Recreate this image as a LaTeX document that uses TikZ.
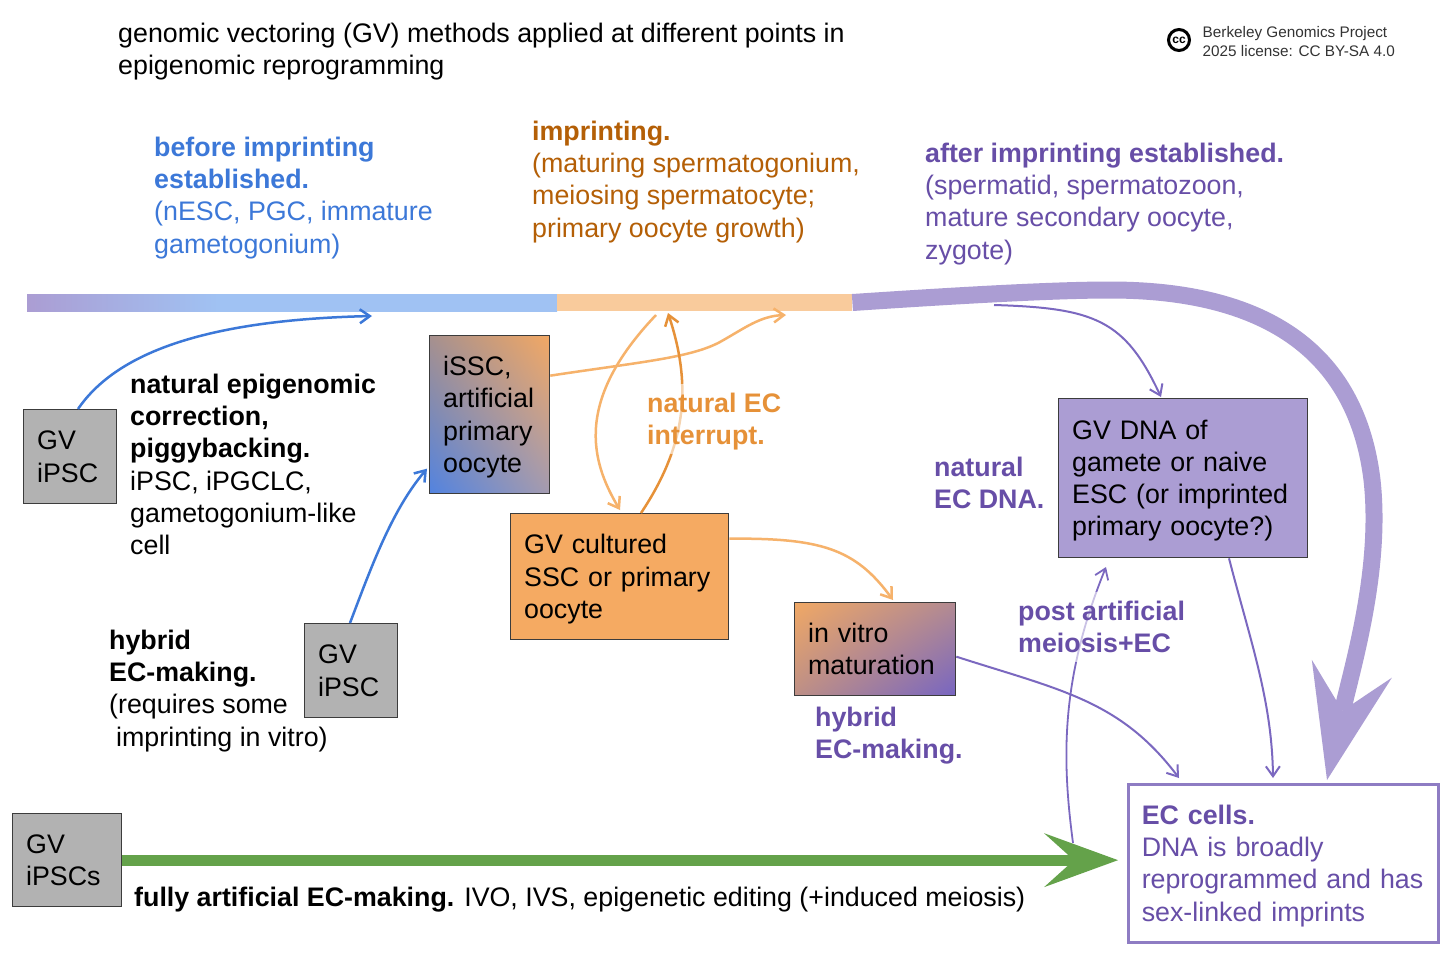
\documentclass[tikz,border=0pt]{standalone}
\usepackage{fontspec}
\setmainfont{Liberation Sans}
\usetikzlibrary{arrows.meta,calc,shadings}
\definecolor{cblue}{HTML}{3C78D8}
\definecolor{cbrown}{HTML}{B45F06}
\definecolor{cpurple}{HTML}{674EA7}
\definecolor{corange}{HTML}{E69138}
\definecolor{lorange}{HTML}{F6B26B}
\definecolor{barpurple}{HTML}{AB9DD3}
\definecolor{barblue}{HTML}{A0C2F3}
\definecolor{barorange}{HTML}{F9CB9C}
\definecolor{boxorange}{HTML}{F5AA62}
\definecolor{boxgray}{HTML}{B2B2B2}
\definecolor{edgegray}{HTML}{3C3C3C}
\definecolor{lpurple}{HTML}{8E7CC3}
\definecolor{apurple}{HTML}{7B68C0}
\definecolor{cgreen}{HTML}{64A24A}
\definecolor{credgray}{HTML}{333333}
\newcommand\fsz{\fontsize{26.8}{32.3}\selectfont}
\newcommand\TopS{\rule{0pt}{25.5pt}}
\newcommand\BotS{\rule[-6.8pt]{0pt}{6.8pt}}
\pgfdeclarehorizontalshading{barshade}{100bp}{color(0bp)=(barpurple); color(25bp)=(barpurple); color(43bp)=(barblue); color(100bp)=(barblue)}
\begin{document}
\begin{tikzpicture}[x=1pt,y=-1pt,
  box/.style={draw=edgegray, line width=1.3pt, anchor=north west, inner xsep=13.5pt, inner ysep=0pt, align=left, font=\fsz, text=black},
  graybox/.style={box, fill=boxgray},
  lbl/.style={anchor=north west, inner sep=0pt, align=left, font=\fsz},
  halo/.style={fill=white, fill opacity=0.6, text opacity=1, inner sep=3pt},
  bar/.style={anchor=west, inner sep=0pt, minimum height=17pt},
  barb/.style={-{Straight Barb[length=10pt,width=14pt]}},
  arrblue/.style={draw=cblue, line width=2.5pt, barb},
  arrlor/.style={draw=lorange, line width=2.5pt, barb},
  arrdor/.style={draw=corange, line width=2.5pt, barb},
  arrpur/.style={draw=apurple, line width=2pt, barb},
]
\useasboundingbox (0,0) rectangle (1455,959);
\fill[white] (0,0) rectangle (1455,959);

% title and credit
\node[lbl] (title) at (118,16.5) {\TopS genomic vectoring (GV) methods applied at different points in\\epigenomic reprogramming};
\node[circle, draw, line width=3pt, minimum size=21pt, inner sep=0pt, font=\bfseries\fontsize{12}{12}\selectfont] (cc) at (1179,40) {cc};
\node[lbl, font=\fontsize{15.3}{18.4}\selectfont, text=credgray] (credit) at (1202.5,23.5) {\rule{0pt}{14pt}Berkeley Genomics Project\\2025 license: CC BY-SA 4.0};

% stage headings
\node[lbl, text=cblue] (before) at (154,130.5) {\TopS\textbf{before imprinting}\\\textbf{established.}\\(nESC, PGC, immature\\gametogonium)};
\node[lbl, text=cbrown] (imp) at (532,114.5) {\TopS\textbf{imprinting.}\\(maturing spermatogonium,\\meiosing spermatocyte;\\primary oocyte growth)};
\node[lbl, text=cpurple] (after) at (925,136.5) {\TopS\textbf{after imprinting established.}\\(spermatid, spermatozoon,\\mature secondary oocyte,\\zygote)};

% timeline bar
\node[bar, minimum width=530pt, shade, shading=barshade] (barA) at (27,302.5) {};
\node[bar, minimum width=295pt, fill=barorange] (barB) at (557,302.5) {};

% other labels
\node[lbl] (nat) at (130,367.5) {\TopS\textbf{natural epigenomic}\\\textbf{correction,}\\\textbf{piggybacking.}\\iPSC, iPGCLC,\\gametogonium-like\\cell};
\node[lbl] (hyb) at (109,623.5) {\TopS\textbf{hybrid}\\\textbf{EC-making.}\\(requires some\\\hspace*{7pt}imprinting in vitro)};
\node[lbl] (full) at (134,880.5) {\TopS\textbf{fully artificial EC-making.} IVO, IVS, epigenetic editing (+induced meiosis)};
\node[lbl, text=cpurple] (natdna) at (934,450.5) {\TopS\textbf{natural}\\\textbf{EC DNA.}};
\node[lbl, text=cpurple] (hyb2) at (815,700.5) {\TopS\textbf{hybrid}\\\textbf{EC-making.}};

% boxes
\node[graybox, minimum width=93pt, minimum height=94pt, text width=66pt] (ipscA) at (23,409) {\TopS GV\\iPSC\BotS};
\node[box, minimum width=120pt, minimum height=158pt, text width=93pt,
  upper left={rgb,255:red,166;green,144;blue,142}, upper right={rgb,255:red,242;green,168;blue,100},
  lower left={rgb,255:red,82;green,131;blue,224}, lower right={rgb,255:red,164;green,155;blue,176}] (issc) at (429,335) {\TopS iSSC,\\artificial\\primary\\oocyte\BotS};
\node[graybox, minimum width=93pt, minimum height=94pt, text width=66pt] (ipscB) at (304,623) {\TopS GV\\iPSC\BotS};
\node[box, fill=boxorange, minimum width=218pt, minimum height=126pt, text width=191pt] (cult) at (510,513) {\TopS GV cultured\\SSC or primary\\oocyte\BotS};
\node[box, minimum width=161pt, minimum height=93pt, text width=134pt,
  upper left={rgb,255:red,240;green,168;blue,101}, upper right={rgb,255:red,178;green,138;blue,146},
  lower left={rgb,255:red,189;green,143;blue,134}, lower right={rgb,255:red,119;green,101;blue,194}] (ivm) at (794,602) {\TopS in vitro\\maturation\BotS};
\node[box, fill=barpurple, minimum width=249pt, minimum height=159pt, text width=222pt] (gvdna) at (1058,398) {\TopS GV DNA of\\gamete or naive\\ESC (or imprinted\\primary oocyte?)\BotS};
\node[box, draw=lpurple, line width=2.5pt, fill=white, text=cpurple, minimum width=310pt, minimum height=158pt, text width=283pt] (ec) at (1127,783) {\TopS\textbf{EC cells.}\\DNA is broadly\\reprogrammed and has\\sex-linked imprints\BotS};
\node[graybox, minimum width=109pt, minimum height=93pt, text width=82pt] (ipscC) at (12,813) {\TopS GV\\iPSCs\BotS};

% free ends
\coordinate (c1) at (994,305);
\coordinate (c2) at (656,315);
\coordinate (c3) at (668,313);
\coordinate (c4) at (786,315);
\coordinate (c5) at (372,316);
\coordinate (c6) at (1073,843);
\coordinate (c7) at (1106,567);

% connectors
\draw[arrblue] ([xshift=55pt]ipscA.north west) .. controls (115,355) and (200,320) .. (c5);
\draw[arrblue] ([xshift=46pt]ipscB.north west) .. controls (372,565) and (392,510) .. ([xshift=-2pt,yshift=-54pt]issc.west);
\draw[arrlor] ([yshift=39pt]issc.east) .. controls (640,362) and (690,358) .. (720,342) .. controls (745,328) and (760,316) .. (c4);
\draw[arrlor] (c2) .. controls (575,400) and (590,460) .. ([xshift=110pt,yshift=3pt]cult.north west);
\draw[arrdor] ([xshift=131pt]cult.north west) .. controls (690,440) and (690,380) .. (c3);
\draw[arrlor] ([yshift=38pt]cult.east) .. controls (820,538) and (855,548) .. ([xshift=99pt,yshift=2pt]ivm.north west);
\draw[arrpur] (c1) .. controls (1095,308) and (1125,320) .. ([xshift=103pt,yshift=1pt]gvdna.north west);
\draw[arrpur] ([xshift=171pt]gvdna.south west) .. controls (1250,640) and (1272,700) .. ([xshift=146pt,yshift=5pt]ec.north west);
\draw[arrpur] ([yshift=-7.5pt]ivm.east) .. controls (1060,690) and (1120,700) .. ([xshift=52pt,yshift=5pt]ec.north west);
\draw[arrpur, line width=1.8pt] (c6) .. controls (1062,760) and (1060,680) .. (c7);

\draw[line width=17pt, barpurple, -{Stealth[length=114pt,width=82pt,inset=43pt,line width=0pt]}] (barB.east) .. controls (950,296) and (1050,290) .. (1110,290) .. controls (1250,290) and (1355,340) .. (1372,480) .. controls (1382,570) and (1352,668) .. ([xshift=200pt,yshift=3pt]ec.north west);
\draw[line width=11pt, cgreen, -{Stealth[length=74pt,width=54pt,inset=30pt,line width=0pt]}] (ipscC.east) -- ($(ipscC.east -| ec.west)+(-9,0)$);

% labels over arrows
\node[lbl, halo, text=corange] (interr) at (644,383.5) {\TopS\textbf{natural EC}\\\textbf{interrupt.}\BotS};
\node[lbl, halo, text=cpurple] (post) at (1015,591.5) {\TopS\textbf{post artificial}\\\textbf{meiosis+EC}\BotS};
\end{tikzpicture}
\end{document}
